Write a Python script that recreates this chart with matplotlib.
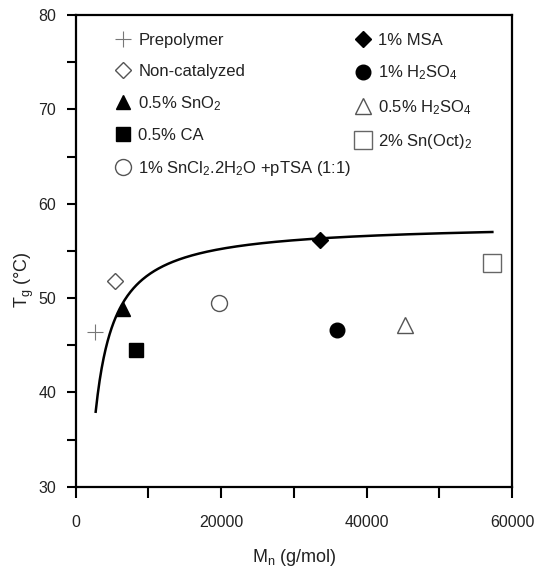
import numpy as np
import matplotlib
matplotlib.use("Agg")
import matplotlib.pyplot as plt

plt.rcParams["font.family"] = ["Liberation Sans", "DejaVu Sans"]
plt.rcParams["mathtext.default"] = "regular"

# Number-average molar mass (g/mol) and glass transition temperature (°C)
labels = [
    "Prepolymer",
    "Non-catalyzed",
    "0.5% SnO$_2$",
    "0.5% CA",
    "1% SnCl$_2$.2H$_2$O +pTSA (1:1)",
    "1% MSA",
    "1% H$_2$SO$_4$",
    "0.5% H$_2$SO$_4$",
    "2% Sn(Oct)$_2$",
]
mn_values = [2700, 5400, 6550, 8330, 19700, 33600, 35900, 45300, 57300]
tg_values = [46.4, 51.8, 48.8, 44.5, 49.5, 56.1, 46.6, 47.1, 53.7]

# Flory–Fox fit: Tg = Tg_inf - K / Mn
tg_inf = 57.96
k_ff = 55030.0
mn_fit_range = (2750, 57300)

styles = [
    dict(marker="+", ms=12, mew=0.8, color="#777777", mfc="none"),
    dict(marker="D", ms=8, mew=1.0, color="#555555", mfc="white"),
    dict(marker="^", ms=10, mew=1.0, color="black", mfc="black"),
    dict(marker="s", ms=10.5, mew=1.0, color="black", mfc="black"),
    dict(marker="o", ms=11.5, mew=1.0, color="#555555", mfc="white"),
    dict(marker="D", ms=8, mew=1.0, color="black", mfc="black"),
    dict(marker="o", ms=10.5, mew=1.0, color="black", mfc="black"),
    dict(marker="^", ms=11, mew=1.0, color="#555555", mfc="white"),
    dict(marker="s", ms=12.5, mew=1.0, color="#666666", mfc="white"),
]

fig = plt.figure(figsize=(5.36, 5.67), dpi=100)
ax = fig.add_axes([0.1412, 0.1416, 0.8140, 0.8319])

mn_fit = np.linspace(mn_fit_range[0], mn_fit_range[1], 400)
ax.plot(mn_fit, tg_inf - k_ff / mn_fit, color="black", lw=1.8, zorder=2)

for x, y, lab, st in zip(mn_values, tg_values, labels, styles):
    ax.plot([x], [y], linestyle="none", label=lab, zorder=3,
            marker=st["marker"], markersize=st["ms"], markeredgewidth=st["mew"],
            markeredgecolor=st["color"], markerfacecolor=st["mfc"])

ax.set_xlim(0, 60000)
ax.set_ylim(30, 80)
ax.set_xticks(np.arange(0, 60001, 10000))
ax.set_xticklabels(["0", "", "20000", "", "40000", "", "60000"])
ax.set_yticks(np.arange(30, 81, 5))
ax.set_yticklabels(["30", "", "40", "", "50", "", "60", "", "70", "", "80"])

for sp in ax.spines.values():
    sp.set_linewidth(1.6)
ax.tick_params(axis="x", direction="out", length=8, width=1.5, pad=12.5,
               labelsize=11.5, labelcolor="#222222")
ax.tick_params(axis="y", direction="out", length=6.5, width=1.5, pad=7.5,
               labelsize=11.5, labelcolor="#222222")

ax.set_xlabel("M$_n$ (g/mol)", fontsize=13, color="#222222", labelpad=12)
ax.set_ylabel("T$_g$ (°C)", fontsize=13, color="#222222")
ax.yaxis.set_label_coords(-0.092, 0.44)

ax.legend(loc="upper left", ncol=2, frameon=False, fontsize=12,
          handlelength=1.0, handletextpad=0.4, columnspacing=0.15,
          labelspacing=0.93, borderaxespad=0.6, bbox_to_anchor=(0.052, 0.997),
          labelcolor="#222222")

fig.savefig("out.png", dpi=100)
